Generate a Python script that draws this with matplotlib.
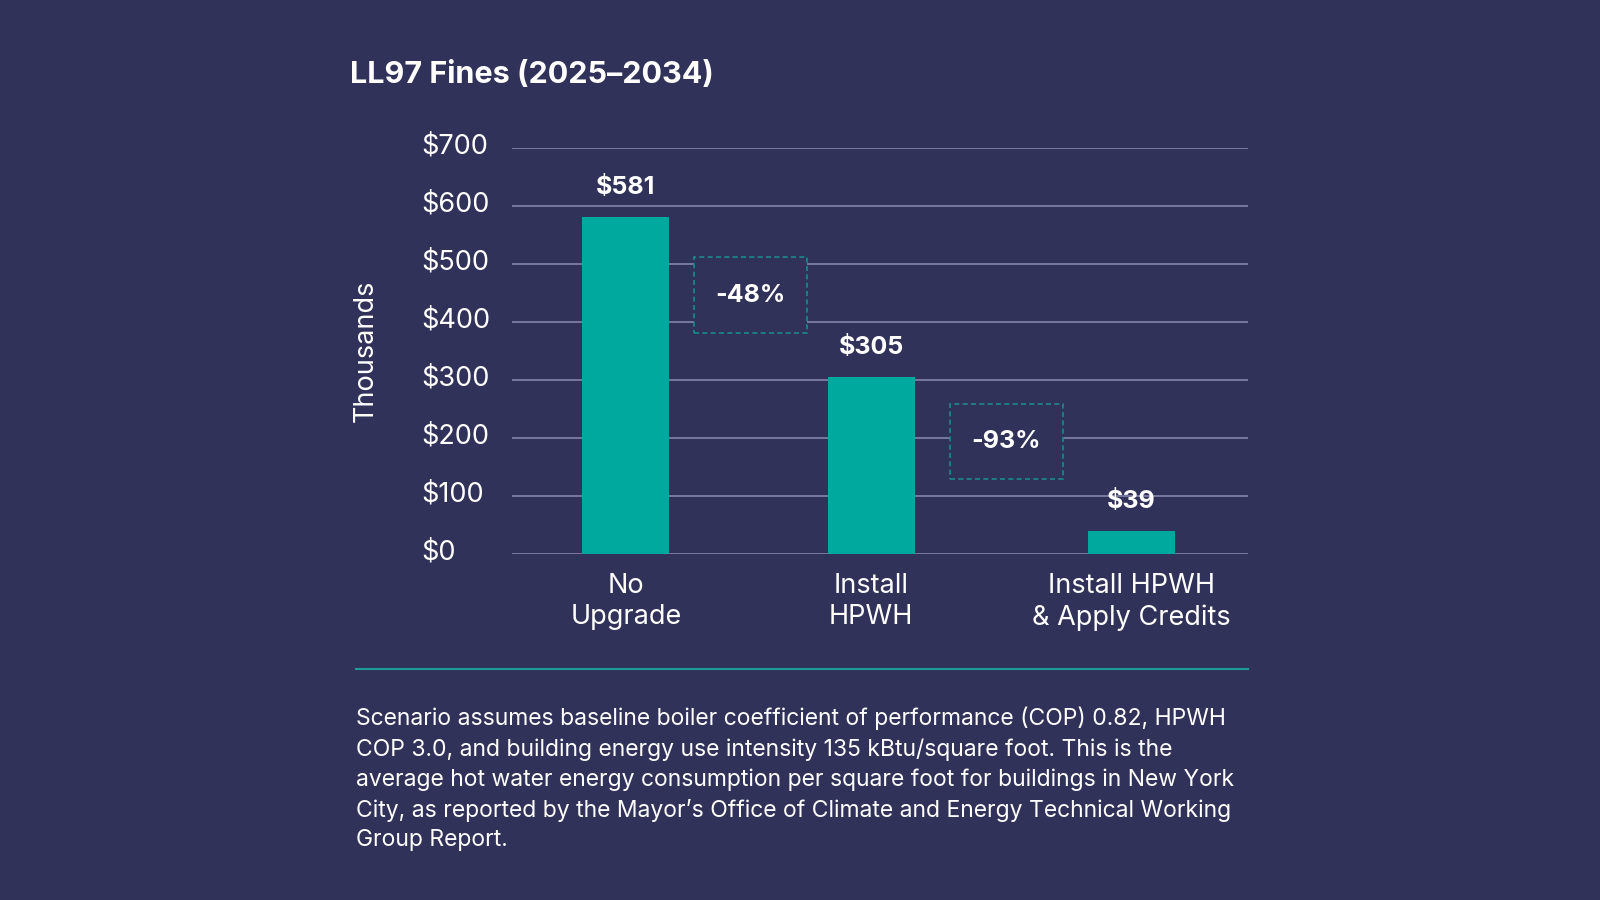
import matplotlib.pyplot as plt
from matplotlib.patches import Rectangle
from matplotlib.transforms import ScaledTranslation

# Datos
categorias = ['No\nUpgrade', 'Install\nHPWH', 'Install HPWH\n& Apply Credits']
multas = [581, 305, 39]
etiquetas = ['$581', '$305', '$39']
yticks = [0, 100, 200, 300, 400, 500, 600, 700]
ytick_labels = ['$0', '$100', '$200', '$300', '$400', '$500', '$600', '$700']
reducciones = ['-48%', '-93%']
# cajas de reduccion: (x0, x1, y0, y1) en coordenadas de datos
cajas = [(0.27, 0.715, 381, 512), (1.28, 1.73, 129, 259)]

nota = ("Scenario assumes baseline boiler coefficient of performance (COP) 0.82, HPWH\n"
        "COP 3.0, and building energy use intensity 135 kBtu/square foot. This is the\n"
        "average hot water energy consumption per square foot for buildings in New York\n"
        "City, as reported by the Mayor\u2019s Office of Climate and Energy Technical Working\n"
        "Group Report.")

# posiciones de las barras (layout)
posiciones = [0, 0.97, 2]

fondo = '#31325a'
verde = '#00a99d'
rejilla = '#7c7ea3'

plt.rcParams['font.family'] = ['Inter', 'DejaVu Sans']

fig = plt.figure(figsize=(16, 9), dpi=100)
fig.patch.set_facecolor(fondo)
ax = fig.add_axes([0.32, 0.3844, 0.46, 0.4512])
ax.set_facecolor(fondo)

ax.bar(posiciones, multas, width=0.345, color=verde, zorder=3)

for xi, v, t in zip(posiciones, multas, etiquetas):
    ax.annotate(t, (xi, v), xytext=(0, 13), textcoords='offset points',
                ha='center', va='bottom', color='white', fontsize=18,
                fontweight='bold')

# Cajas punteadas con el porcentaje
for (x0, x1, y0, y1), t in zip(cajas, reducciones):
    ax.add_patch(Rectangle((x0, y0), x1 - x0, y1 - y0, facecolor=fondo,
                           edgecolor='#1b8a8a', linestyle=(0, (3, 2)),
                           linewidth=1.2, zorder=4))
    ax.text((x0 + x1) / 2, (y0 + y1) / 2, t, ha='center', va='center',
            color='white', fontsize=18, fontweight='bold', zorder=5)

ax.set_xlim(-0.45, 2.46)
ax.set_ylim(0, 700)
ax.set_yticks(yticks)
ax.set_yticklabels(ytick_labels)
ax.set_xticks(posiciones)
ax.set_xticklabels(categorias, linespacing=1.24)
ax.grid(axis='y', color=rejilla, linewidth=1.3, zorder=0)
ax.set_axisbelow(True)

for s in ax.spines.values():
    s.set_visible(False)

ax.tick_params(axis='y', length=0, pad=65, labelsize=19.5, labelcolor='white')
ax.tick_params(axis='x', length=0, pad=14, labelsize=19.5, labelcolor='white')
subir = ScaledTranslation(0, 3 / 72, fig.dpi_scale_trans)
for lab in ax.get_yticklabels():
    lab.set_horizontalalignment('left')
    lab.set_transform(lab.get_transform() + subir)

ax.set_ylabel('Thousands', color='white', fontsize=19.5)
ax.yaxis.set_label_coords(-0.181, 0.5)

# Titulo
fig.text(350 / 1600, 1 - 75 / 900, 'LL97 Fines (2025\u20132034)', color='white',
         fontsize=22, fontweight='bold', ha='left', va='center')

# Linea separadora
fig.add_artist(plt.Line2D([356 / 1600, 1248 / 1600], [1 - 669 / 900, 1 - 669 / 900],
                          color='#1b9a98', linewidth=1.5))

# Nota al pie
fig.text(356 / 1600, 1 - 707 / 900, nota, color='white', fontsize=16.5,
         ha='left', va='top', linespacing=1.44)

plt.savefig('out.png', facecolor=fondo)
